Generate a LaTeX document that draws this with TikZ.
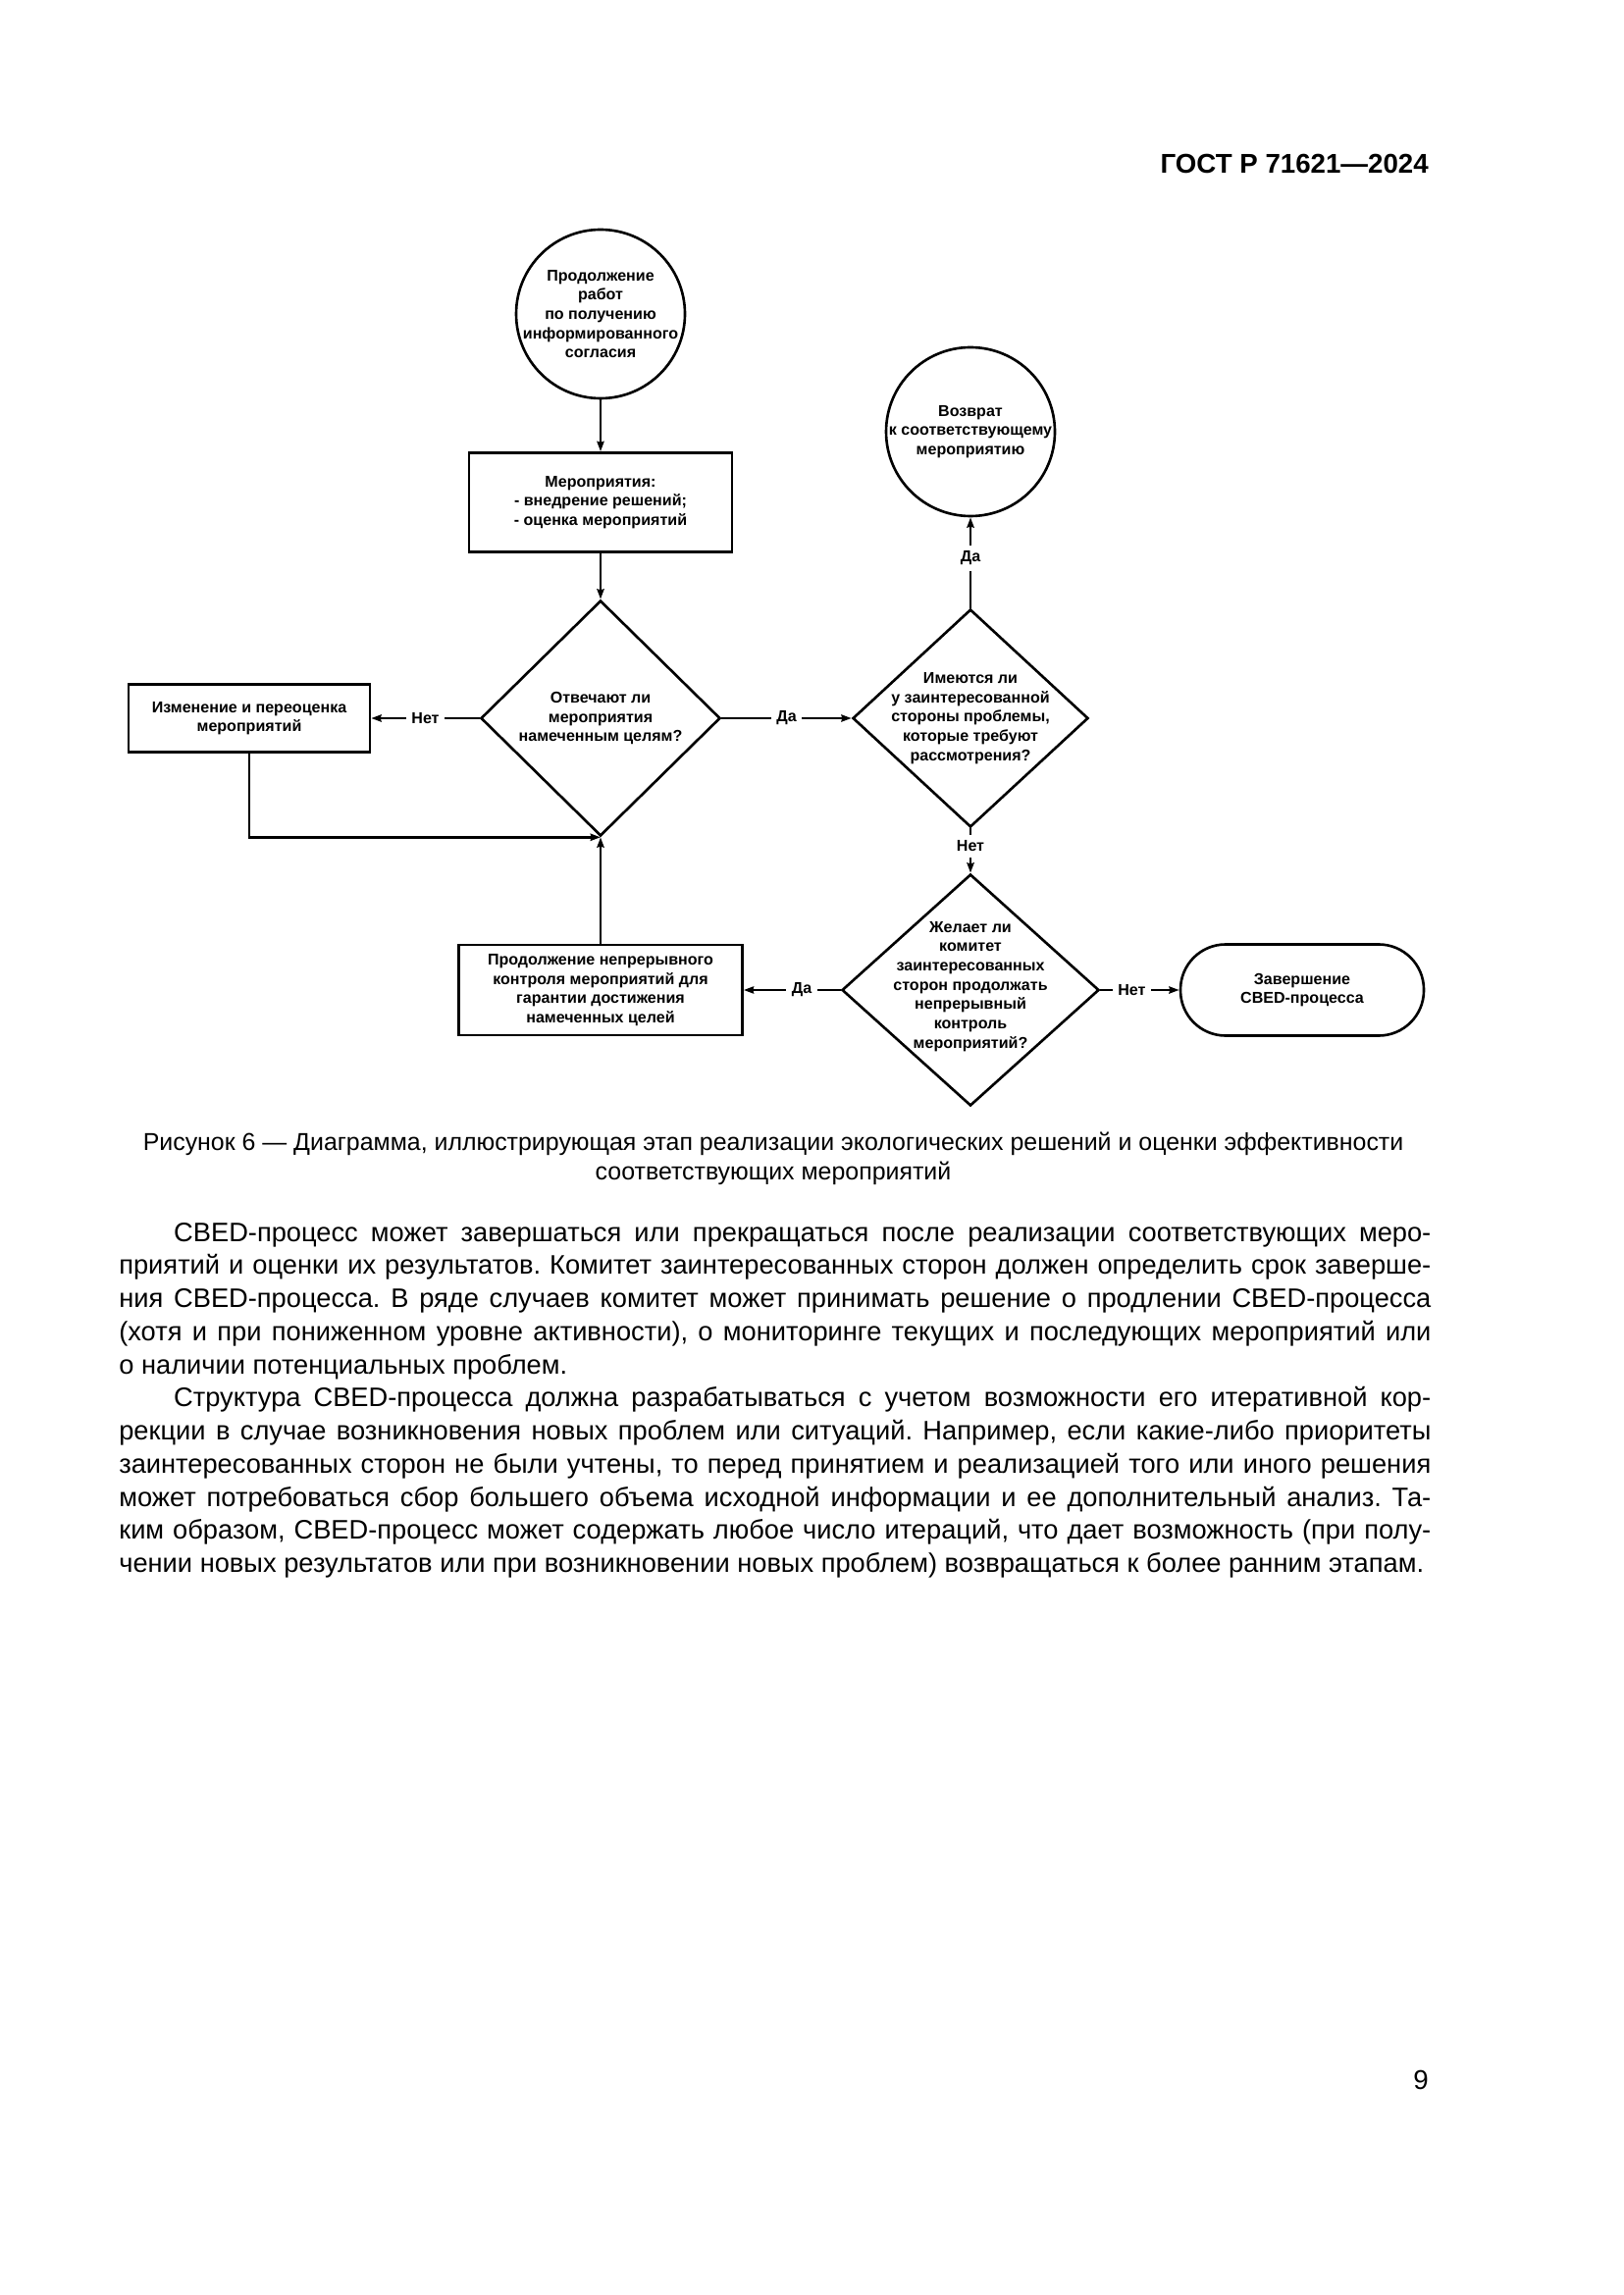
\documentclass[tikz,border=0pt]{standalone}
\usepackage{fontspec}
\setmainfont{Liberation Sans}
\usetikzlibrary{shapes.geometric,arrows.meta}
\newdimen\pu \pu=0.127mm
\begin{document}
\begin{tikzpicture}[x=0.127mm,y=-0.127mm,
  line width=0.95pt,
  >={Stealth[length=1.3mm,width=0.9mm,inset=0.1mm]},
  dtxt/.style={font=\fontsize{5.8}{7.1}\selectfont\bfseries, align=center},
  circ/.style={circle, draw, minimum size=172\pu, inner sep=0pt},
  boxn/.style={rectangle, draw, dtxt, inner sep=0pt},
  dia/.style={diamond, draw, inner sep=0pt},
  lab/.style={fill=white, dtxt, inner sep=2pt},
  conn/.style={->}
]
\useasboundingbox (0,0) rectangle (1654,2339);

% header and page number
\node[anchor=base east, inner sep=0pt, font=\fontsize{10}{12}\selectfont\bfseries] (hdr) at (1457,177) {ГОСТ Р 71621—2024};
\node[anchor=base east, inner sep=0pt, font=\fontsize{10}{12}\selectfont] (pg) at (1457,2129) {9};

% diagram nodes
\node[circ] (c1) at (612,320) {};
\node[dtxt] (c1t) at (c1) {Продолжение\\работ\\по получению\\информированного\\согласия};
\node[boxn, minimum width=268\pu, minimum height=101\pu] (b1) at (612,512) {Мероприятия:\\- внедрение решений;\\- оценка мероприятий};
\node[dia, minimum width=244\pu, minimum height=240\pu] (d1) at (612,732) {};
\node[dtxt] (d1t) at (d1) {Отвечают ли\\мероприятия\\намеченным целям?};
\node[boxn, minimum width=246\pu, minimum height=69\pu] (bl) at (254,732) {Изменение и переоценка\\мероприятий};
\node[dia, minimum width=240\pu, minimum height=222\pu] (d2) at (989,732) {};
\node[dtxt] (d2t) at (d2) {Имеются ли\\у заинтересованной\\стороны проблемы,\\которые требуют\\рассмотрения?};
\node[circ] (c2) at (989,440) {};
\node[dtxt] (c2t) at (c2) {Возврат\\к соответствующему\\мероприятию};
\node[dia, minimum width=262\pu, minimum height=236\pu] (d3) at (989,1009) {};
\node[dtxt] (d3t) at ([yshift=1.3pt]d3.center) {Желает ли\\комитет\\заинтересованных\\сторон продолжать\\непрерывный\\контроль\\мероприятий?};
\node[boxn, minimum width=289\pu, minimum height=92\pu] (b3) at (612,1009) {Продолжение непрерывного\\контроля мероприятий для\\гарантии достижения\\намеченных целей};
\node[boxn, rounded corners=46\pu, minimum width=248\pu, minimum height=93\pu] (t) at (1327,1009) {Завершение\\CBED-процесса};

% connectors
\draw[conn] (c1.south) -- (b1.north);
\draw[conn] (b1.south) -- (d1.north);
\draw[conn] (d1.west) -- node[lab]{Нет} (bl.east);
\draw[conn] (d1.east) -- node[lab]{Да} (d2.west);
\draw[conn] (bl.south) |- (d1.south);
\draw[conn] (b3.north) -- (d1.south);
\draw[conn] (d2.north) -- node[lab, pos=0.55]{Да} (c2.south);
\draw[conn] (d2.south) -- node[lab, pos=0.4]{Нет} (d3.north);
\draw[conn] (d3.west) -- node[lab, pos=0.4]{Да} (b3.east);
\draw[conn] (d3.east) -- node[lab, pos=0.4]{Нет} (t.west);

% caption
\node[anchor=base, align=center, font=\fontsize{9}{10.8}\selectfont] (cap) at (788,1202) {Рисунок 6 — Диаграмма, иллюстрирующая этап реализации экологических решений и оценки эффективности\\соответствующих мероприятий};

% body text
\node[anchor=base west, text width=1337\pu, align=justify, inner sep=0pt, font=\fontsize{9.85}{12.2}\selectfont] (body) at (120,1265) {\hyphenpenalty=10000 \exhyphenpenalty=10000 \tolerance=9999 \frenchspacing
\spaceskip=0.278em plus 0.4em minus 0.14em
\hspace*{7.1mm}CBED-процесс может завершаться или прекращаться после реализации соответствующих меро-\linebreak приятий и оценки их результатов. Комитет заинтересованных сторон должен определить срок заверше-\linebreak ния CBED-процесса. В ряде случаев комитет может принимать решение о продлении CBED-процесса \linebreak (хотя и при пониженном уровне активности), о мониторинге текущих и последующих мероприятий или \linebreak о наличии потенциальных проблем.\\
\hspace*{7.1mm}Структура CBED-процесса должна разрабатываться с учетом возможности его итеративной кор-\linebreak рекции в случае возникновения новых проблем или ситуаций. Например, если какие-либо приоритеты \linebreak заинтересованных сторон не были учтены, то перед принятием и реализацией того или иного решения \linebreak может потребоваться сбор большего объема исходной информации и ее дополнительный анализ. Та-\linebreak ким образом, CBED-процесс может содержать любое число итераций, что дает возможность (при полу-\linebreak чении новых результатов или при возникновении новых проблем) возвращаться к более ранним этапам.};
\end{tikzpicture}
\end{document}
